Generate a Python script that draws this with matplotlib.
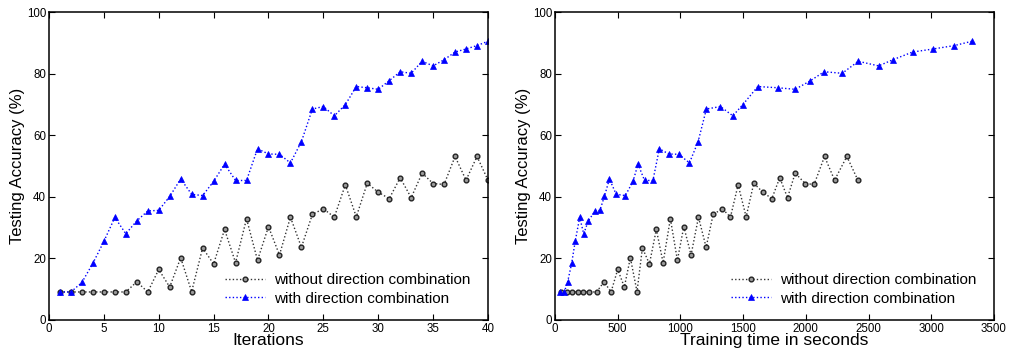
import matplotlib
matplotlib.use("Agg")
import matplotlib.pyplot as plt

plt.rcParams['font.family'] = ['Liberation Sans', 'DejaVu Sans']

# accuracy per iteration (%)
iterations = list(range(1, 41))
acc_without = [9.1, 9.1, 9.1, 9.1, 9.1, 9.1, 9.1, 12.4, 9.1, 16.4,
               10.7, 20.2, 9.2, 23.4, 18.2, 29.4, 18.6, 32.9, 19.4, 30.3,
               21.1, 33.4, 23.6, 34.3, 36.1, 33.4, 43.9, 33.5, 44.4, 41.5,
               39.4, 46.2, 39.7, 47.7, 44.3, 44.0, 53.1, 45.4, 53.1, 45.4]
acc_with = [9.1, 9.1, 12.2, 18.4, 25.5, 33.3, 28.0, 32.2, 35.4, 35.6,
            40.1, 45.8, 40.8, 40.4, 45.0, 50.6, 45.3, 45.3, 55.6, 53.9,
            53.8, 51.0, 57.9, 68.5, 69.3, 66.3, 69.9, 75.8, 75.4, 74.9,
            77.7, 80.6, 80.1, 84.0, 82.5, 84.5, 87.0, 88.0, 89.1, 90.5]

# cumulative training time (s) at each iteration
time_without = [45, 95, 138, 183, 226, 274, 332, 391, 447, 500,
                553, 601, 654, 697, 753, 808, 862, 920, 976, 1027,
                1085, 1144, 1205, 1261, 1335, 1399, 1460, 1524, 1585, 1657,
                1729, 1792, 1854, 1915, 1995, 2066, 2149, 2229, 2327, 2415]
time_with = [40, 74, 100, 133, 161, 197, 229, 266, 319, 358,
             394, 434, 488, 561, 622, 662, 714, 781, 832, 907,
             987, 1072, 1141, 1207, 1319, 1418, 1497, 1617, 1777, 1915,
             2037, 2146, 2290, 2418, 2580, 2694, 2851, 3016, 3184, 3324]

labels = ['without direction combination', 'with direction combination']


def draw(ax, x1, x2, xlabel, xmax, xticks):
    ax.plot(x1, acc_without, linestyle=(0, (1, 1.6)), color='#333333', lw=1,
            marker='o', ms=3.4, mfc='#9a9a9a', mec='#222222', mew=1.0,
            label=labels[0])
    ax.plot(x2, acc_with, linestyle=(0, (1, 1.6)), color='#0000ff', lw=1,
            marker='^', ms=3.7, mfc='#0000ff', mec='#0000ff', mew=0.5,
            label=labels[1])
    ax.set_xlim(0, xmax)
    ax.set_ylim(0, 100)
    ax.set_xticks(xticks)
    ax.set_yticks(range(0, 101, 20))
    ax.tick_params(direction='in', top=True, right=True, length=4,
                   width=0.8, labelsize=8.3, pad=2)
    ax.set_xlabel(xlabel, fontsize=12.5, labelpad=-1)
    ax.set_ylabel('Testing Accuracy (%)', fontsize=12, labelpad=1)
    for s in ax.spines.values():
        s.set_linewidth(1.1)
    ax.legend(loc='lower right', bbox_to_anchor=(0.985, 0.012), frameon=False,
              fontsize=11, handlelength=2.6, handletextpad=0.6,
              labelspacing=0.3, borderpad=0.2)


fig = plt.figure(figsize=(10.12, 3.53), dpi=100)
ax1 = fig.add_axes([0.0484, 0.0935, 0.4338, 0.8725])
ax2 = fig.add_axes([0.5484, 0.0935, 0.4338, 0.8725])

draw(ax1, iterations, iterations, 'Iterations', 40, range(0, 41, 5))
draw(ax2, time_without, time_with, 'Training time in seconds', 3500,
     range(0, 3501, 500))

fig.savefig('out.png', dpi=100)
